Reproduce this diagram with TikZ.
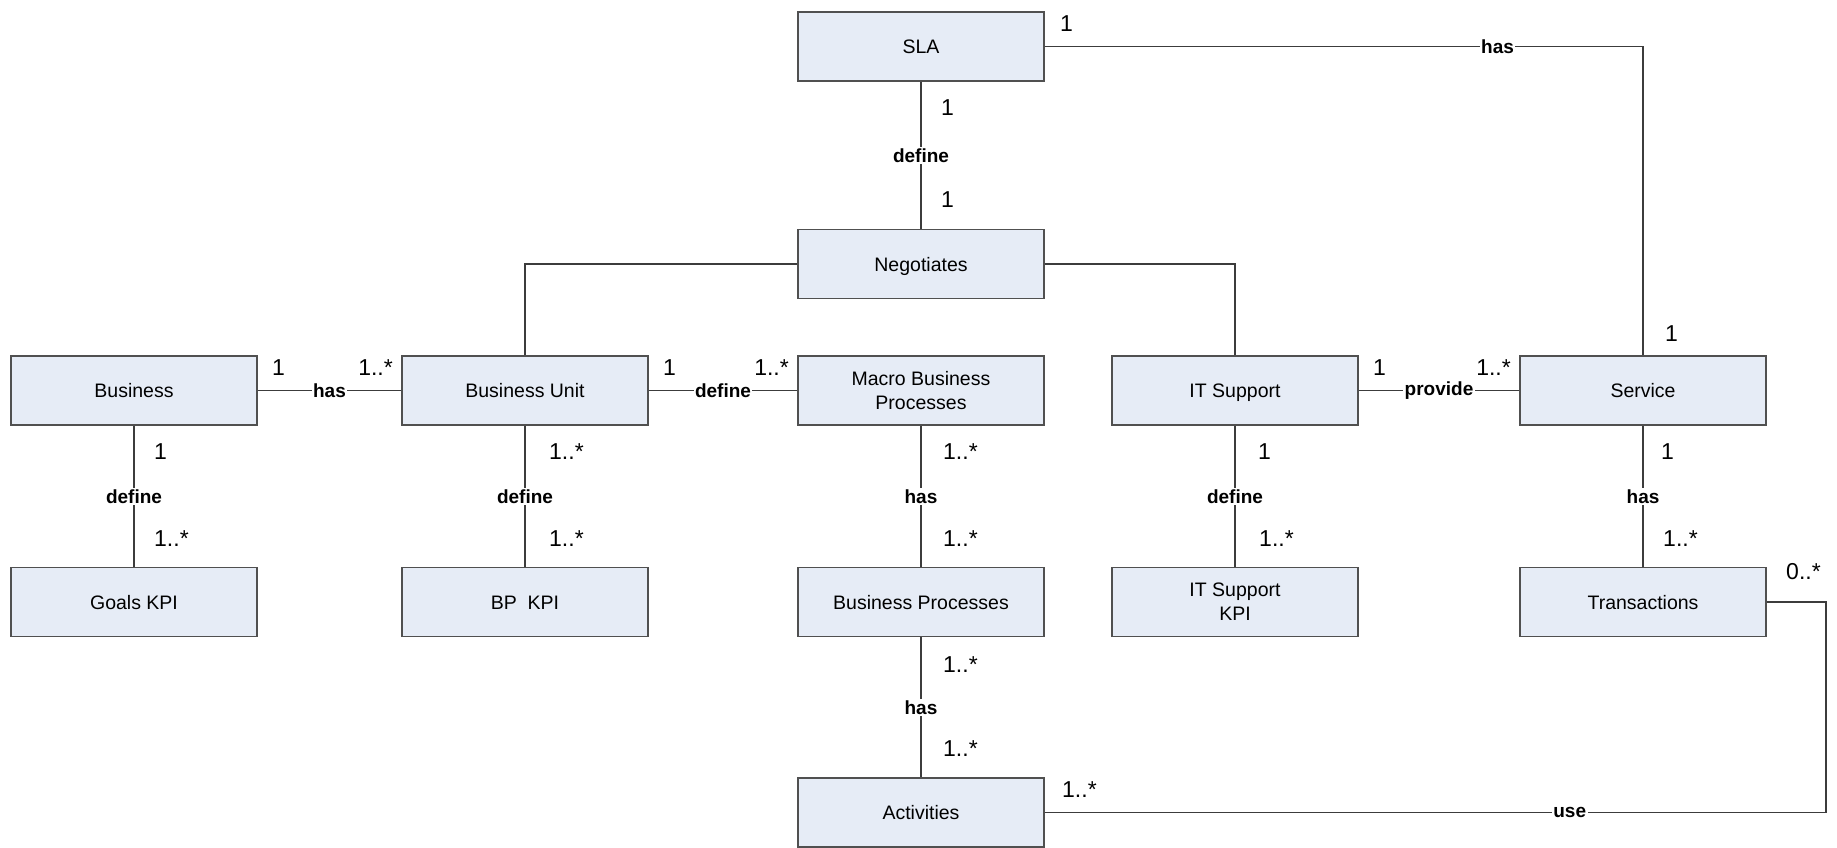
\documentclass[tikz,border=0pt]{standalone}
\usepackage{fontspec}
\setmainfont{Liberation Sans}
\usetikzlibrary{calc}
\definecolor{boxfill}{HTML}{E6ECF6}
\definecolor{boxedge}{HTML}{505050}
\definecolor{wirecol}{HTML}{3C3C3C}
\begin{document}
\begin{tikzpicture}[x=1pt,y=-1pt,
  entity/.style={draw=boxedge, fill=boxfill, line width=1.2pt,
    minimum width=246pt, minimum height=69pt, inner sep=0pt, align=center,
    font=\fontsize{19.5}{24}\selectfont},
  % single-line boxes: centre the capitals on the box
  entity1/.style={entity, text height=14pt, text depth=0pt},
  wire/.style={draw=wirecol, line width=1.2pt},
  rel/.style={fill=white, inner sep=1.5pt, text=black,
    font=\bfseries\fontsize{19}{22}\selectfont},
  mult/.style={inner sep=0pt, anchor=west, font=\fontsize{23}{26}\selectfont},
  multr/.style={mult, anchor=east}]
\useasboundingbox (0,0) rectangle (1837,848);

% entities
\node[entity1] (sla) at (921,46.5)  {SLA};
\node[entity1] (neg) at (921,264)   {Negotiates};
\node[entity1] (bus) at (134,390.5) {Business};
\node[entity1] (bu)  at (525,390.5) {Business Unit};
\node[entity]  (mbp) at (921,390.5) {Macro Business\\Processes};
\node[entity1] (its) at (1235,390.5) {IT Support};
\node[entity1] (svc) at (1643,390.5) {Service};
\node[entity1] (gk)  at (134,602)   {Goals KPI};
\node[entity1] (bpk) at (525,602)   {BP~~KPI};
\node[entity1] (bp)  at (921,602)   {Business Processes};
\node[entity]  (itk) at (1235,602)  {IT Support\\KPI};
\node[entity1] (tr)  at (1643,602)  {Transactions};
\node[entity1] (act) at (921,812.5) {Activities};

% x position of the return leg of the "use" association
\coordinate (loopx) at (1826,0);

% associations
\draw[wire] (sla) -- node[rel]{define} (neg);
\draw[wire] (sla.east) -- node[rel,pos=0.757]{has} (sla.east -| svc.north) -- (svc.north);
\draw[wire] (neg.west) -| (bu.north);
\draw[wire] (neg.east) -| (its.north);
\draw[wire] (bus) -- node[rel]{has} (bu);
\draw[wire] (bu) -- node[rel]{define} (mbp);
\draw[wire] (its) -- node[rel]{provide} (svc);
\draw[wire] (bus) -- node[rel]{define} (gk);
\draw[wire] (bu) -- node[rel]{define} (bpk);
\draw[wire] (mbp) -- node[rel]{has} (bp);
\draw[wire] (its) -- node[rel]{define} (itk);
\draw[wire] (svc) -- node[rel]{has} (tr);
\draw[wire] (bp) -- node[rel]{has} (act);
\draw[wire] (act.east) -- node[rel,pos=0.672]{use} (act.east -| loopx) |- (tr.east);

% multiplicities
\node[mult] (m1) at (1060,23.5) {1};
\node[mult] (m2) at (1665,334) {1};
\node[mult] (m3) at (941,108) {1};
\node[mult] (m4) at (941,200) {1};
\node[mult] (m5) at (272,368) {1};
\node[multr] (m6) at (393,368) {1..*};
\node[mult] (m7) at (663,368) {1};
\node[multr] (m8) at (789,368) {1..*};
\node[mult] (m9) at (1373,368) {1};
\node[multr] (m10) at (1511,368) {1..*};
\node[mult] (m11) at (154,452) {1};
\node[mult] (m12) at (154,539) {1..*};
\node[mult] (m13) at (549,452) {1..*};
\node[mult] (m14) at (549,539) {1..*};
\node[mult] (m15) at (943,452) {1..*};
\node[mult] (m16) at (943,539) {1..*};
\node[mult] (m17) at (1258,452) {1};
\node[mult] (m18) at (1259,539) {1..*};
\node[mult] (m19) at (1661,452) {1};
\node[mult] (m20) at (1663,539) {1..*};
\node[mult] (m21) at (943,665) {1..*};
\node[mult] (m22) at (943,749) {1..*};
\node[mult] (m23) at (1062,790) {1..*};
\node[mult] (m24) at (1786,572) {0..*};
\end{tikzpicture}
\end{document}
